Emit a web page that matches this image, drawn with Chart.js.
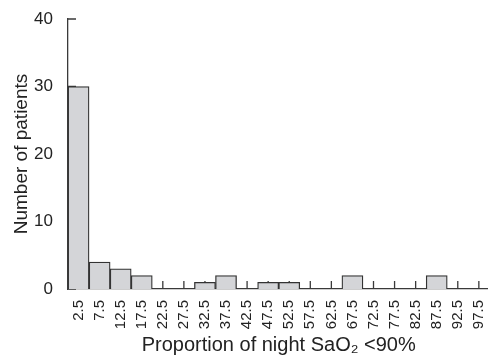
<!DOCTYPE html>
<html>
<head>
<meta charset="utf-8">
<script src="https://cdn.jsdelivr.net/npm/chart.js@4"></script>
<style>
  html, body { margin: 0; padding: 0; background: #fff; overflow: hidden; }
  #wrap { width: 500px; height: 358px; }
</style>
</head>
<body>
<div id="wrap"><canvas id="mainChart" width="500" height="358"></canvas></div>
<script>
const binLabels = ['2.5', '7.5', '12.5', '17.5', '22.5', '27.5', '32.5', '37.5', '42.5', '47.5',
  '52.5', '57.5', '62.5', '67.5', '72.5', '77.5', '82.5', '87.5', '92.5', '97.5'];
const patientCounts = [30, 4, 3, 2, 0, 0, 1, 2, 0, 1, 1, 0, 0, 2, 0, 0, 0, 2, 0, 0];
const yTicks = [0, 10, 20, 30, 40];

const axisColor = '#3a3a3a';
const fontFamily = '"Liberation Sans", Arial, Helvetica, sans-serif';

// tick marks pointing into the plot, drawn under the bars
const innerTicks = {
  id: 'innerTicks',
  beforeDatasetsDraw(chart) {
    const ctx = chart.ctx;
    const x = chart.scales.x;
    const y = chart.scales.y;
    ctx.save();
    ctx.strokeStyle = axisColor;
    ctx.lineWidth = 1.3;
    ctx.beginPath();
    yTicks.forEach((v) => {
      const py = y.getPixelForValue(v);
      ctx.moveTo(x.left, py);
      ctx.lineTo(x.left + 8, py);
    });
    binLabels.forEach((lab, i) => {
      const px = x.getPixelForValue(i);
      ctx.moveTo(px, y.bottom);
      ctx.lineTo(px, y.bottom - 8);
    });
    ctx.stroke();
    ctx.restore();
  }
};

let ctx = document.getElementById('mainChart').getContext('2d');
let chart = new Chart(ctx, {
  type: 'bar',
  data: {
    labels: binLabels,
    datasets: [{
      label: 'Number of patients',
      data: patientCounts,
      backgroundColor: '#d4d5d8',
      borderColor: '#333333',
      borderWidth: 1.3,
      borderSkipped: 'bottom',
      categoryPercentage: 1,
      barPercentage: 1
    }]
  },
  options: {
    responsive: false,
    animation: false,
    layout: { padding: { top: 19, right: 6, bottom: 0, left: 0 } },
    plugins: { legend: { display: false }, tooltip: { enabled: false } },
    scales: {
      x: {
        grid: { display: false },
        border: { display: true, color: axisColor, width: 1.3 },
        ticks: {
          autoSkip: false,
          minRotation: 90,
          maxRotation: 90,
          padding: 3,
          color: '#222',
          font: { family: fontFamily, size: 15 }
        },
        title: {
          display: true,
          text: 'Proportion of night SaO₂ <90%',
          color: '#222',
          padding: { top: 0, bottom: 1 },
          font: { family: fontFamily, size: 20 }
        },
        afterFit(scale) { scale.height = 69; }
      },
      y: {
        min: 0,
        max: 40,
        grid: { display: false },
        border: { display: true, color: axisColor, width: 1.3 },
        ticks: {
          stepSize: 10,
          padding: 7,
          color: '#222',
          font: { family: fontFamily, size: 17 }
        },
        title: {
          display: true,
          text: 'Number of patients',
          color: '#222',
          padding: { top: 10, bottom: 0 },
          font: { family: fontFamily, size: 19 }
        },
        afterFit(scale) { scale.width = 68; }
      }
    }
  },
  plugins: [innerTicks]
});
</script>
</body>
</html>
